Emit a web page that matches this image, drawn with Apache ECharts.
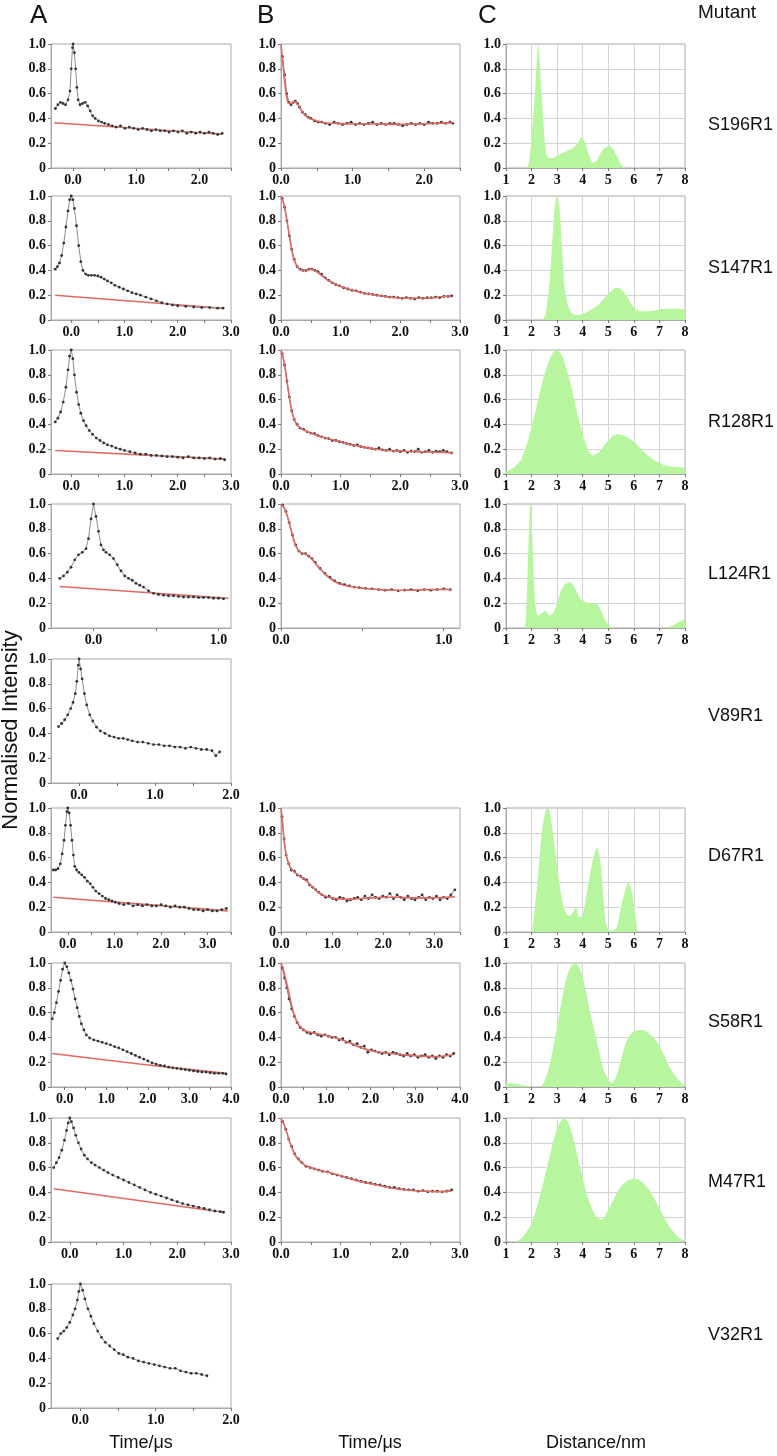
<!DOCTYPE html>
<html><head><meta charset="utf-8">
<script src="https://cdn.jsdelivr.net/npm/echarts@6/dist/echarts.min.js"></script>
<style>html,body{margin:0;padding:0;background:#fff}#c{width:777px;height:1456px}</style>
</head><body><div id="c"></div><script>
// ---------- labels ----------
const rowNames = ['S196R1','S147R1','R128R1','L124R1','V89R1','D67R1','S58R1','M47R1','V32R1'];
const colLetters = ['A','B','C'];
const bottomLabels = ['Time/\u03bcs','Time/\u03bcs','Distance/nm'];
const yTitle = 'Normalised Intensity';
const headTitle = 'Mutant';

// ---------- column A (raw traces with background fit) ----------
const tA0 = [-0.28,-0.24,-0.2,-0.16,-0.12,-0.08,-0.05,-0.03,-0.01,0,0.02,0.04,0.06,0.08,0.11,0.15,0.19,0.23,0.27,0.31,0.35,0.4,0.45,0.5,0.56,0.62,0.68,0.75,0.82,0.89,0.96,1.03,1.1,1.17,1.24,1.31,1.38,1.45,1.52,1.59,1.66,1.73,1.8,1.87,1.94,2.01,2.08,2.15,2.22,2.29,2.36];
const yA0 = [0.48,0.51,0.53,0.52,0.51,0.55,0.62,0.8,0.97,1.0,0.93,0.8,0.65,0.55,0.51,0.52,0.53,0.5,0.46,0.42,0.4,0.38,0.37,0.36,0.35,0.34,0.33,0.34,0.32,0.33,0.32,0.31,0.32,0.31,0.3,0.31,0.3,0.3,0.29,0.3,0.29,0.3,0.28,0.29,0.28,0.29,0.28,0.29,0.28,0.27,0.28];
const bgA0t = [-0.3,2.36], bgA0y = [0.365,0.272];

const tA1 = [-0.3,-0.26,-0.22,-0.18,-0.14,-0.1,-0.06,-0.03,0,0.03,0.06,0.1,0.14,0.18,0.22,0.27,0.32,0.38,0.44,0.5,0.56,0.62,0.68,0.75,0.82,0.9,0.98,1.06,1.14,1.22,1.3,1.4,1.5,1.6,1.7,1.8,1.9,2.0,2.15,2.3,2.45,2.6,2.75,2.85];
const yA1 = [0.41,0.43,0.46,0.52,0.62,0.75,0.88,0.97,1.0,0.97,0.9,0.76,0.6,0.47,0.4,0.37,0.36,0.36,0.36,0.355,0.345,0.33,0.315,0.3,0.28,0.265,0.25,0.235,0.22,0.21,0.2,0.185,0.17,0.155,0.14,0.13,0.12,0.115,0.11,0.105,0.1,0.1,0.095,0.095];
const bgA1t = [-0.3,2.85], bgA1y = [0.2,0.095];

const tA2 = [-0.3,-0.25,-0.2,-0.15,-0.1,-0.06,-0.03,0,0.03,0.06,0.1,0.14,0.18,0.23,0.28,0.34,0.4,0.47,0.54,0.61,0.68,0.76,0.84,0.92,1.0,1.1,1.2,1.3,1.4,1.5,1.6,1.7,1.8,1.9,2.0,2.1,2.2,2.3,2.4,2.5,2.6,2.7,2.8,2.88];
const yA2 = [0.42,0.45,0.5,0.58,0.7,0.84,0.95,1.0,0.93,0.8,0.66,0.56,0.49,0.43,0.39,0.35,0.32,0.29,0.27,0.25,0.235,0.225,0.21,0.2,0.19,0.18,0.17,0.16,0.16,0.15,0.15,0.145,0.14,0.14,0.135,0.13,0.14,0.13,0.13,0.125,0.13,0.12,0.125,0.115];
const bgA2t = [-0.3,2.88], bgA2y = [0.19,0.12];

const tA3 = [-0.27,-0.24,-0.21,-0.18,-0.15,-0.12,-0.09,-0.06,-0.04,-0.02,0,0.02,0.04,0.06,0.08,0.1,0.13,0.16,0.19,0.22,0.25,0.28,0.31,0.34,0.37,0.4,0.44,0.48,0.52,0.56,0.6,0.64,0.68,0.72,0.76,0.8,0.84,0.88,0.92,0.96,1.0,1.04];
const yA3 = [0.4,0.42,0.45,0.49,0.55,0.59,0.61,0.64,0.72,0.88,1.0,0.9,0.78,0.67,0.63,0.61,0.59,0.56,0.51,0.46,0.42,0.4,0.385,0.36,0.345,0.33,0.3,0.28,0.27,0.265,0.26,0.26,0.255,0.25,0.25,0.25,0.245,0.245,0.245,0.24,0.24,0.235];
const bgA3t = [-0.27,1.08], bgA3y = [0.335,0.24];

const tA4 = [-0.27,-0.23,-0.19,-0.15,-0.11,-0.08,-0.05,-0.03,-0.01,0,0.02,0.04,0.07,0.1,0.14,0.18,0.23,0.28,0.34,0.4,0.46,0.52,0.58,0.64,0.7,0.77,0.84,0.91,0.98,1.05,1.12,1.19,1.26,1.33,1.4,1.47,1.54,1.61,1.68,1.75,1.8,1.85];
const yA4 = [0.455,0.48,0.51,0.55,0.6,0.65,0.72,0.82,0.95,1.0,0.92,0.84,0.72,0.63,0.55,0.5,0.45,0.42,0.4,0.38,0.37,0.36,0.36,0.35,0.34,0.33,0.33,0.32,0.31,0.31,0.3,0.3,0.29,0.29,0.28,0.29,0.28,0.27,0.27,0.26,0.22,0.25];

const tA5 = [-0.31,-0.26,-0.21,-0.16,-0.12,-0.08,-0.05,-0.02,0,0.03,0.06,0.09,0.12,0.15,0.19,0.24,0.3,0.36,0.42,0.48,0.54,0.6,0.67,0.74,0.81,0.88,0.95,1.02,1.1,1.2,1.3,1.4,1.5,1.6,1.7,1.8,1.9,2.0,2.1,2.2,2.3,2.4,2.5,2.6,2.7,2.8,2.9,3.0,3.1,3.2,3.3,3.4];
const yA5 = [0.5,0.5,0.51,0.55,0.63,0.74,0.86,0.97,1.0,0.96,0.86,0.74,0.62,0.53,0.5,0.48,0.46,0.44,0.41,0.39,0.36,0.33,0.31,0.29,0.27,0.26,0.25,0.24,0.23,0.22,0.23,0.21,0.22,0.21,0.22,0.21,0.21,0.22,0.21,0.2,0.21,0.2,0.2,0.19,0.18,0.18,0.17,0.18,0.17,0.17,0.18,0.19];
const bgA5t = [-0.31,3.43], bgA5y = [0.28,0.17];

const tA6 = [-0.3,-0.25,-0.2,-0.15,-0.1,-0.05,0,0.05,0.1,0.15,0.2,0.25,0.3,0.35,0.4,0.46,0.52,0.6,0.7,0.8,0.9,1.0,1.1,1.2,1.3,1.4,1.5,1.6,1.7,1.8,1.9,2.0,2.1,2.2,2.3,2.4,2.5,2.6,2.7,2.8,2.9,3.0,3.1,3.2,3.3,3.4,3.5,3.6,3.7,3.8,3.88];
const yA6 = [0.55,0.6,0.68,0.77,0.86,0.95,1.0,0.97,0.92,0.86,0.79,0.71,0.64,0.57,0.51,0.46,0.42,0.395,0.38,0.37,0.36,0.35,0.34,0.325,0.315,0.3,0.285,0.27,0.255,0.24,0.225,0.21,0.195,0.185,0.175,0.17,0.16,0.155,0.15,0.145,0.14,0.135,0.13,0.125,0.12,0.12,0.115,0.11,0.11,0.11,0.105];
const bgA6t = [-0.3,1.8,3.88], bgA6y = [0.27,0.185,0.11];

const tA7 = [-0.3,-0.25,-0.2,-0.15,-0.1,-0.06,-0.03,0,0.03,0.07,0.11,0.16,0.21,0.27,0.33,0.4,0.47,0.55,0.63,0.71,0.8,0.9,1.0,1.1,1.2,1.3,1.4,1.5,1.6,1.7,1.8,1.9,2.0,2.1,2.2,2.3,2.4,2.5,2.6,2.7,2.8,2.86];
const yA7 = [0.6,0.64,0.68,0.74,0.82,0.9,0.96,1.0,0.97,0.92,0.86,0.8,0.75,0.7,0.67,0.64,0.62,0.6,0.58,0.56,0.54,0.52,0.5,0.48,0.46,0.44,0.42,0.4,0.385,0.37,0.355,0.34,0.325,0.31,0.3,0.29,0.28,0.27,0.26,0.25,0.245,0.24];
const bgA7t = [-0.3,2.86], bgA7y = [0.43,0.24];

const tA8 = [-0.3,-0.26,-0.22,-0.18,-0.14,-0.1,-0.07,-0.04,-0.02,0,0.03,0.06,0.1,0.14,0.18,0.23,0.28,0.33,0.39,0.45,0.51,0.57,0.63,0.7,0.77,0.84,0.91,0.98,1.05,1.12,1.19,1.26,1.33,1.4,1.47,1.54,1.61,1.68];
const yA8 = [0.56,0.6,0.62,0.65,0.69,0.75,0.8,0.87,0.94,1.0,0.95,0.88,0.8,0.74,0.68,0.62,0.57,0.53,0.5,0.47,0.44,0.43,0.41,0.4,0.38,0.37,0.36,0.35,0.34,0.33,0.32,0.32,0.3,0.29,0.28,0.28,0.27,0.26];

// ---------- column B (background-corrected, with fit) ----------
const tB0 = [0.02,0.05,0.08,0.11,0.14,0.17,0.2,0.23,0.26,0.3,0.34,0.38,0.42,0.47,0.52,0.57,0.62,0.68,0.74,0.8,0.86,0.92,0.98,1.04,1.1,1.16,1.22,1.28,1.34,1.4,1.46,1.52,1.58,1.64,1.7,1.76,1.82,1.88,1.94,2.0,2.06,2.12,2.18,2.24,2.3,2.36,2.4];
const yB0 = [0.9,0.75,0.6,0.53,0.51,0.53,0.54,0.52,0.49,0.45,0.43,0.41,0.4,0.38,0.37,0.37,0.36,0.35,0.37,0.36,0.35,0.36,0.37,0.35,0.36,0.35,0.36,0.37,0.35,0.36,0.35,0.36,0.36,0.35,0.34,0.35,0.36,0.35,0.36,0.35,0.37,0.36,0.36,0.37,0.36,0.37,0.36];
const fitB0t = [0,0.03,0.06,0.09,0.12,0.15,0.18,0.21,0.25,0.3,0.35,0.4,0.5,0.6,0.8,1.0,1.3,1.6,1.9,2.2,2.4];
const fitB0y = [1.0,0.82,0.65,0.54,0.52,0.52,0.535,0.53,0.5,0.45,0.42,0.4,0.38,0.365,0.36,0.355,0.355,0.352,0.355,0.36,0.365];

const tB1 = [0.02,0.06,0.1,0.14,0.18,0.22,0.27,0.32,0.37,0.42,0.47,0.52,0.57,0.62,0.68,0.74,0.8,0.86,0.92,0.98,1.05,1.12,1.19,1.26,1.33,1.4,1.47,1.54,1.61,1.68,1.75,1.82,1.89,1.96,2.03,2.1,2.17,2.24,2.31,2.38,2.45,2.52,2.59,2.66,2.73,2.8,2.86];
const yB1 = [0.98,0.91,0.8,0.68,0.57,0.49,0.43,0.41,0.4,0.4,0.41,0.41,0.4,0.39,0.37,0.34,0.32,0.3,0.285,0.275,0.26,0.25,0.24,0.235,0.225,0.215,0.21,0.205,0.2,0.195,0.19,0.185,0.185,0.18,0.175,0.18,0.175,0.17,0.18,0.175,0.18,0.18,0.185,0.18,0.19,0.19,0.195];
const fitB1t = [0,0.04,0.08,0.12,0.16,0.2,0.25,0.3,0.35,0.4,0.45,0.5,0.55,0.6,0.65,0.7,0.8,0.9,1.0,1.2,1.4,1.6,1.8,2.0,2.2,2.4,2.6,2.85];
const fitB1y = [1.0,0.95,0.86,0.74,0.62,0.52,0.45,0.415,0.4,0.4,0.405,0.41,0.405,0.39,0.37,0.35,0.315,0.29,0.27,0.24,0.215,0.2,0.185,0.178,0.175,0.177,0.182,0.195];

const tB2 = [0.02,0.06,0.1,0.14,0.18,0.22,0.27,0.32,0.38,0.44,0.5,0.56,0.62,0.68,0.74,0.8,0.86,0.92,0.98,1.04,1.1,1.16,1.22,1.28,1.34,1.4,1.46,1.52,1.58,1.64,1.7,1.76,1.82,1.88,1.94,2.0,2.06,2.12,2.18,2.24,2.3,2.36,2.42,2.48,2.54,2.6,2.66,2.72,2.78,2.86];
const yB2 = [0.97,0.88,0.75,0.62,0.51,0.44,0.4,0.37,0.36,0.34,0.33,0.325,0.31,0.3,0.29,0.285,0.27,0.27,0.26,0.255,0.245,0.24,0.23,0.235,0.22,0.215,0.21,0.205,0.2,0.21,0.195,0.19,0.2,0.185,0.19,0.18,0.19,0.175,0.185,0.18,0.2,0.175,0.18,0.19,0.175,0.185,0.18,0.19,0.18,0.17];
const fitB2t = [0,0.04,0.08,0.12,0.16,0.2,0.25,0.3,0.4,0.5,0.6,0.8,1.0,1.2,1.4,1.6,1.8,2.0,2.2,2.4,2.6,2.88];
const fitB2y = [1.0,0.93,0.82,0.68,0.56,0.47,0.41,0.38,0.35,0.33,0.31,0.285,0.26,0.235,0.215,0.2,0.19,0.185,0.18,0.178,0.176,0.17];

const tB3 = [0.01,0.03,0.05,0.07,0.09,0.11,0.13,0.15,0.17,0.19,0.21,0.24,0.27,0.3,0.33,0.36,0.39,0.42,0.45,0.48,0.52,0.56,0.6,0.64,0.68,0.72,0.76,0.8,0.84,0.88,0.92,0.96,1.0,1.04];
const yB3 = [0.99,0.94,0.85,0.75,0.67,0.62,0.6,0.6,0.58,0.56,0.53,0.48,0.44,0.41,0.38,0.36,0.35,0.34,0.33,0.325,0.32,0.315,0.31,0.305,0.31,0.3,0.305,0.31,0.3,0.31,0.305,0.31,0.315,0.31];
const fitB3t = [0,0.02,0.04,0.06,0.08,0.1,0.12,0.14,0.16,0.18,0.2,0.23,0.26,0.3,0.35,0.4,0.45,0.5,0.6,0.7,0.8,0.9,1.0,1.05];
const fitB3y = [1.0,0.97,0.9,0.8,0.7,0.64,0.61,0.6,0.59,0.57,0.54,0.49,0.45,0.4,0.36,0.34,0.33,0.32,0.31,0.305,0.305,0.31,0.31,0.31];

const tB5 = [0.02,0.06,0.1,0.15,0.2,0.26,0.32,0.38,0.44,0.5,0.56,0.62,0.68,0.74,0.8,0.87,0.94,1.01,1.08,1.15,1.22,1.29,1.36,1.43,1.5,1.57,1.64,1.71,1.78,1.85,1.92,1.99,2.06,2.13,2.2,2.27,2.34,2.41,2.48,2.55,2.62,2.69,2.76,2.83,2.9,2.97,3.04,3.11,3.18,3.25,3.32,3.4];
const yB5 = [0.93,0.75,0.62,0.55,0.5,0.49,0.46,0.45,0.43,0.42,0.38,0.36,0.34,0.32,0.3,0.28,0.29,0.27,0.26,0.28,0.27,0.25,0.26,0.27,0.28,0.26,0.29,0.27,0.3,0.28,0.27,0.29,0.28,0.31,0.27,0.3,0.28,0.26,0.29,0.27,0.26,0.28,0.3,0.26,0.28,0.27,0.29,0.26,0.28,0.27,0.3,0.34];
const fitB5t = [0,0.03,0.06,0.1,0.15,0.2,0.25,0.3,0.4,0.5,0.6,0.7,0.8,0.9,1.0,1.2,1.4,1.6,1.8,2.0,2.3,2.6,2.9,3.2,3.4];
const fitB5y = [1.0,0.88,0.74,0.62,0.55,0.51,0.49,0.47,0.44,0.41,0.37,0.33,0.3,0.285,0.275,0.265,0.265,0.27,0.275,0.28,0.28,0.275,0.275,0.28,0.285];

const tB6 = [0.03,0.08,0.13,0.18,0.24,0.3,0.36,0.43,0.5,0.58,0.66,0.74,0.82,0.9,0.98,1.06,1.14,1.22,1.3,1.38,1.46,1.54,1.62,1.7,1.78,1.86,1.94,2.02,2.1,2.18,2.26,2.34,2.42,2.5,2.58,2.66,2.74,2.82,2.9,2.98,3.06,3.14,3.22,3.3,3.38,3.46,3.54,3.62,3.7,3.78,3.86];
const yB6 = [0.96,0.88,0.8,0.71,0.63,0.57,0.52,0.48,0.46,0.44,0.43,0.44,0.42,0.41,0.42,0.41,0.4,0.4,0.38,0.39,0.36,0.37,0.34,0.35,0.32,0.33,0.28,0.3,0.29,0.28,0.27,0.28,0.26,0.28,0.27,0.26,0.25,0.27,0.25,0.26,0.24,0.25,0.26,0.24,0.25,0.23,0.25,0.24,0.26,0.25,0.27];
const fitB6t = [0,0.05,0.1,0.15,0.2,0.25,0.3,0.35,0.4,0.5,0.6,0.8,1.0,1.2,1.4,1.6,1.8,2.0,2.2,2.4,2.6,2.8,3.0,3.2,3.4,3.6,3.85];
const fitB6y = [1.0,0.95,0.88,0.8,0.72,0.64,0.58,0.53,0.5,0.46,0.445,0.43,0.415,0.4,0.375,0.345,0.315,0.295,0.28,0.272,0.264,0.257,0.252,0.248,0.245,0.248,0.26];

const tB7 = [0.03,0.08,0.13,0.18,0.23,0.29,0.35,0.42,0.49,0.56,0.63,0.7,0.78,0.86,0.94,1.02,1.1,1.18,1.26,1.34,1.42,1.5,1.58,1.66,1.74,1.82,1.9,1.98,2.06,2.14,2.22,2.3,2.38,2.46,2.54,2.62,2.7,2.78,2.86];
const yB7 = [0.97,0.91,0.83,0.77,0.71,0.67,0.64,0.61,0.6,0.59,0.58,0.57,0.565,0.55,0.54,0.53,0.52,0.51,0.5,0.49,0.48,0.475,0.465,0.46,0.45,0.44,0.44,0.43,0.425,0.42,0.42,0.41,0.415,0.405,0.41,0.41,0.405,0.41,0.42];
const fitB7t = [0,0.05,0.1,0.15,0.2,0.25,0.3,0.4,0.5,0.6,0.8,1.0,1.2,1.4,1.6,1.8,2.0,2.2,2.4,2.6,2.85];
const fitB7y = [1.0,0.95,0.88,0.8,0.74,0.69,0.66,0.62,0.6,0.585,0.56,0.535,0.505,0.48,0.46,0.44,0.425,0.415,0.41,0.405,0.41];

// ---------- column C (distance distributions) ----------
const xC0 = [1,1.8,1.9,1.98,2.06,2.13,2.2,2.26,2.32,2.39,2.46,2.52,2.6,2.7,2.85,3.0,3.2,3.4,3.6,3.8,3.96,4.1,4.25,4.4,4.55,4.7,4.85,5.05,5.2,5.35,5.5,5.65,8];
const pC0 = [0,0,0.05,0.2,0.4,0.6,0.85,1.0,0.85,0.6,0.38,0.2,0.1,0.08,0.08,0.1,0.12,0.14,0.16,0.2,0.25,0.2,0.1,0.04,0.06,0.12,0.16,0.18,0.15,0.09,0.03,0,0];
const xC1 = [1,2.4,2.55,2.7,2.8,2.9,3.0,3.1,3.2,3.3,3.45,3.6,3.8,4.0,4.3,4.6,4.9,5.1,5.3,5.5,5.7,5.9,6.1,6.3,6.6,6.9,7.2,7.5,7.8,8];
const pC1 = [0,0,0.05,0.3,0.6,0.9,1.0,0.88,0.55,0.25,0.1,0.05,0.04,0.05,0.08,0.12,0.19,0.23,0.26,0.25,0.2,0.13,0.08,0.07,0.07,0.08,0.09,0.09,0.09,0.08];
const xC2 = [1,1.3,1.6,1.9,2.2,2.5,2.8,3.0,3.2,3.5,3.8,4.0,4.2,4.4,4.6,4.8,5.0,5.2,5.4,5.6,5.8,6.0,6.3,6.6,6.9,7.2,7.5,8];
const pC2 = [0.02,0.05,0.12,0.3,0.55,0.8,0.97,1.0,0.95,0.75,0.48,0.32,0.2,0.15,0.17,0.22,0.27,0.31,0.32,0.31,0.29,0.26,0.2,0.14,0.1,0.07,0.06,0.05];
const xC3 = [1,1.7,1.8,1.87,1.93,1.97,2.02,2.08,2.15,2.25,2.4,2.55,2.7,2.85,3.0,3.15,3.3,3.5,3.7,3.9,4.1,4.3,4.5,4.65,4.8,4.95,5.1,5.25,7.2,7.5,7.8,8];
const pC3 = [0,0,0.2,0.6,0.95,1.0,0.8,0.45,0.18,0.1,0.12,0.14,0.1,0.12,0.2,0.3,0.35,0.37,0.32,0.24,0.21,0.2,0.2,0.17,0.1,0.04,0.01,0,0,0.02,0.05,0.07];
const xC5 = [1,1.95,2.1,2.25,2.4,2.55,2.65,2.75,2.9,3.05,3.2,3.35,3.5,3.65,3.75,3.85,4.0,4.15,4.3,4.45,4.57,4.7,4.8,4.9,5.0,5.2,5.35,5.5,5.65,5.78,5.9,6.0,6.1,6.2,8];
const pC5 = [0,0,0.15,0.45,0.8,0.98,1.0,0.92,0.7,0.45,0.25,0.15,0.13,0.17,0.2,0.12,0.14,0.3,0.48,0.63,0.68,0.55,0.3,0.08,0.02,0.01,0.05,0.2,0.33,0.4,0.35,0.22,0.08,0,0];
const xC6 = [1,1.4,1.8,2.0,2.35,2.55,2.73,2.92,3.1,3.3,3.5,3.7,3.9,4.1,4.29,4.52,4.74,4.9,5.13,5.3,5.5,5.71,5.9,6.1,6.36,6.6,6.88,7.15,7.4,7.65,7.92,8];
const pC6 = [0.03,0.025,0.01,0,0,0.07,0.2,0.4,0.6,0.82,0.96,1.0,0.95,0.8,0.6,0.4,0.2,0.1,0.03,0.08,0.22,0.37,0.43,0.455,0.46,0.43,0.37,0.27,0.16,0.08,0.02,0.01];
const xC7 = [1,1.35,1.6,1.8,2.0,2.3,2.6,2.9,3.1,3.3,3.5,3.7,3.9,4.2,4.5,4.74,5.0,5.2,5.4,5.6,5.8,6.04,6.2,6.4,6.6,6.8,7.0,7.2,7.4,7.6,7.8,8];
const pC7 = [0,0,0.03,0.08,0.15,0.35,0.6,0.85,0.96,1.0,0.93,0.78,0.6,0.36,0.21,0.18,0.26,0.34,0.42,0.47,0.5,0.51,0.5,0.47,0.42,0.35,0.27,0.19,0.12,0.07,0.03,0.01];

// ---------- axis tick labels ----------
const xTicksA = [[0,1,2],[0,1,2,3],[0,1,2,3],[0,1],[0,1,2],[0,1,2,3],[0,1,2,3,4],[0,1,2,3],[0,1,2]];
const xRangeA = [[-0.35,2.5],[-0.38,3.0],[-0.38,3.0],[-0.34,1.1],[-0.37,2.0],[-0.36,3.5],[-0.33,4.0],[-0.35,3.0],[-0.39,2.0]];
const xTicksB = {0:[0,1,2],1:[0,1,2,3],2:[0,1,2,3],3:[0,1],5:[0,1,2,3],6:[0,1,2,3,4],7:[0,1,2,3]};
const xRangeB = {0:[0,2.5],1:[0,3],2:[0,3],3:[0,1.1],5:[0,3.5],6:[0,4],7:[0,3]};
const yTicks = [0,0.2,0.4,0.6,0.8,1.0];
const xTicksC = [1,2,3,4,5,6,7,8];

// ---------- layout ----------
const rowTop = [44,196,350,504,659,808,963,1118,1284];
const rowLabelY = [125,268,422,574,716,856,1022,1182,1335];
const plotH = 124;
const colLeft = [51,281,506];
const colW = [180,179,179];

const zip = (a,b) => a.slice(0, Math.min(a.length,b.length)).map((v,i)=>[v,b[i]]);
const A = [
  [tA0,yA0,bgA0t,bgA0y],[tA1,yA1,bgA1t,bgA1y],[tA2,yA2,bgA2t,bgA2y],[tA3,yA3,bgA3t,bgA3y],
  [tA4,yA4,null,null],[tA5,yA5,bgA5t,bgA5y],[tA6,yA6,bgA6t,bgA6y],[tA7,yA7,bgA7t,bgA7y],[tA8,yA8,null,null]];
const B = {0:[tB0,yB0,fitB0t,fitB0y],1:[tB1,yB1,fitB1t,fitB1y],2:[tB2,yB2,fitB2t,fitB2y],3:[tB3,yB3,fitB3t,fitB3y],
  5:[tB5,yB5,fitB5t,fitB5y],6:[tB6,yB6,fitB6t,fitB6y],7:[tB7,yB7,fitB7t,fitB7y]};
const C = {0:[xC0,pC0],1:[xC1,pC1],2:[xC2,pC2],3:[xC3,pC3],5:[xC5,pC5],6:[xC6,pC6],7:[xC7,pC7]};

const FRAME = '#a8a8a8';
const TICKFONT = {fontFamily:'"Liberation Serif","Times New Roman",serif', fontWeight:'bold', fontSize:14, color:'#111'};
const RED = '#e06a62';

const grids=[], xAxes=[], yAxes=[], series=[];
function halfTicks(min,max){ const r=[]; for(let v=Math.ceil(min*2)/2; v<=max+1e-9; v+=0.5) r.push(+v.toFixed(2)); return r; }
function addPanel(row,col,xmin,xmax,labels,isC){
  const gi = grids.length;
  grids.push({left:colLeft[col], top:rowTop[row], width:colW[col], height:plotH, show:true,
    borderColor:FRAME, borderWidth:1, backgroundColor:'#fff'});
  const xa = {gridIndex:gi, type:'value', min:xmin, max:xmax,
    axisLine:{show:true, onZero:false, lineStyle:{color:FRAME}},
    splitLine:{show:!!isC, lineStyle:{color:'#d4d4d4'}}};
  if(isC){
    xa.interval=1;
    xa.axisTick={show:true,length:3,lineStyle:{color:'#777'}};
    xa.axisLabel=Object.assign({margin:5, formatter:v=>String(v)},TICKFONT);
  } else {
    xa.axisTick={show:true,length:3,customValues:halfTicks(xmin,xmax),lineStyle:{color:'#777'}};
    xa.axisLabel=Object.assign({margin:5, customValues:labels, formatter:v=>v.toFixed(1)},TICKFONT);
  }
  xAxes.push(xa);
  yAxes.push({gridIndex:gi, type:'value', min:0, max:1, interval:0.2,
    axisLine:{show:true, onZero:false, lineStyle:{color:FRAME}},
    axisTick:{show:true,length:3,lineStyle:{color:'#777'}},
    splitLine:{show:!!isC, lineStyle:{color:'#d4d4d4'}},
    axisLabel:Object.assign({margin:5, formatter:v=> v===0?'0':v.toFixed(1)},TICKFONT)});
  return gi;
}

for(let r=0;r<9;r++){
  const [t,y,bt,by] = A[r];
  let gi = addPanel(r,0,xRangeA[r][0],xRangeA[r][1],xTicksA[r],false);
  if(bt) series.push({type:'line', xAxisIndex:gi, yAxisIndex:gi, data:zip(bt,by), symbol:'none', smooth:0.3,
    lineStyle:{color:RED,width:1.6}, z:2, silent:true});
  series.push({type:'line', xAxisIndex:gi, yAxisIndex:gi, data:zip(t,y), symbol:'circle', symbolSize:2.8,
    itemStyle:{color:'#333'}, lineStyle:{color:'#8e8e8e',width:1}, z:3, silent:true});
  if(B[r]){
    const [tb,yb,ft,fy] = B[r];
    gi = addPanel(r,1,xRangeB[r][0],xRangeB[r][1],xTicksB[r],false);
    series.push({type:'line', xAxisIndex:gi, yAxisIndex:gi, data:zip(tb,yb), symbol:'circle', symbolSize:2.8,
      itemStyle:{color:'#333'}, lineStyle:{color:'#777',width:1}, z:2, silent:true});
    series.push({type:'line', xAxisIndex:gi, yAxisIndex:gi, data:zip(ft,fy), symbol:'none', smooth:0.3,
      lineStyle:{color:RED,width:1.6}, z:3, silent:true});
  }
  if(C[r]){
    const [xc,pc] = C[r];
    gi = addPanel(r,2,1,8,xTicksC,true);
    series.push({type:'line', xAxisIndex:gi, yAxisIndex:gi, data:zip(xc,pc), symbol:'none', smooth:0.25,
      lineStyle:{width:0}, areaStyle:{color:'#b7f59f',opacity:1}, z:2, silent:true});
  }
}

const SANS = '"Liberation Sans", Arial, Helvetica, sans-serif';
const graphics = [];
const letterX = [30,257,478];
colLetters.forEach((L,i)=>graphics.push({type:'text', x:letterX[i], y:3, style:{text:L, font:'26px '+SANS, fill:'#111'}}));
graphics.push({type:'text', x:698, y:3, style:{text:headTitle, font:'19px '+SANS, fill:'#111'}});
rowNames.forEach((n,i)=>graphics.push({type:'text', x:708, y:rowLabelY[i], style:{text:n, font:'18px '+SANS, fill:'#111', textVerticalAlign:'middle'}}));
graphics.push({type:'text', x:11, y:730, rotation:Math.PI/2, style:{text:yTitle, font:'22px '+SANS, fill:'#111', textAlign:'center', textVerticalAlign:'middle'}});
const bottomX = [141,370,596];
bottomLabels.forEach((s,i)=>graphics.push({type:'text', x:bottomX[i], y:1443, style:{text:s, font:'18px '+SANS, fill:'#111', textAlign:'center', textVerticalAlign:'middle'}}));

const chart = echarts.init(document.getElementById('c'), null, {renderer:'canvas'});
chart.setOption({animation:false, backgroundColor:'#fff', grid:grids, xAxis:xAxes, yAxis:yAxes, series, graphic:graphics});
</script></body></html>
